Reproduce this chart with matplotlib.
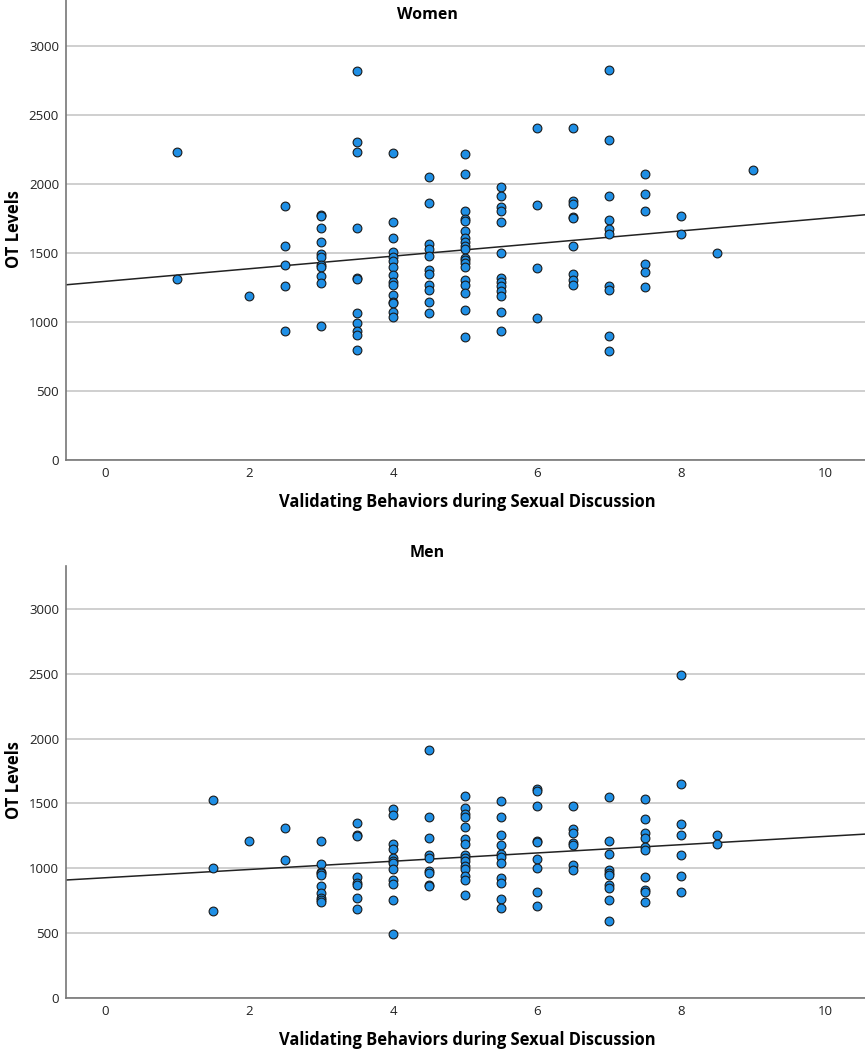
import numpy as np
import matplotlib.pyplot as plt

plt.rcParams['font.family'] = ['Open Sans', 'DejaVu Sans']

# Women: validating behaviours score -> OT levels
women_x = ([1] * 2 + [2] + [2.5] * 5 + [3] * 11 + [3.5] * 11 + [4] * 15 + [4.5] * 11
           + [5] * 19 + [5.5] * 13 + [6] * 4 + [6.5] * 9 + [7] * 10 + [7.5] * 6
           + [8] * 2 + [8.5] + [9])
women_y = [2232, 1309,
           1188,
           1836, 1546, 1411, 1263, 932,
           1775, 1768, 1676, 1577, 1493, 1473, 1411, 1396, 1329, 1278, 973,
           2814, 2300, 2232, 1676, 1316, 1312, 1065, 995, 937, 903, 795,
           2222, 1722, 1609, 1507, 1473, 1444, 1396, 1338, 1292, 1266, 1196, 1147, 1140, 1072, 1034,
           2048, 1862, 1563, 1527, 1476, 1372, 1343, 1268, 1229, 1143, 1065,
           2215, 2072, 1804, 1746, 1732, 1657, 1604, 1577, 1546, 1527, 1461, 1449, 1425, 1394,
           1300, 1268, 1208, 1089, 889,
           1973, 1908, 1833, 1802, 1722, 1498, 1314, 1290, 1263, 1222, 1184, 1072, 937,
           2406, 1848, 1391, 1027,
           2406, 1874, 1850, 1761, 1754, 1551, 1343, 1304, 1268,
           2821, 2316, 1911, 1739, 1671, 1635, 1263, 1229, 899, 790,
           2072, 1928, 1802, 1418, 1360, 1249,
           1768, 1633,
           1495,
           2097]

# Men
men_x = ([1.5] * 3 + [2] + [2.5] * 2 + [3] * 10 + [3.5] * 8 + [4] * 12 + [4.5] * 9
         + [5] * 15 + [5.5] * 11 + [6] * 9 + [6.5] * 7 + [7] * 10 + [7.5] * 10
         + [8] * 7 + [8.5] * 2)
men_y = [1527, 1000, 668,
         1213,
         1314, 1064,
         1213, 1031, 972, 961, 946, 861, 812, 769, 756, 743,
         1347, 1260, 1249, 936, 889, 869, 769, 689,
         1455, 1414, 1185, 1147, 1077, 1059, 1039, 995, 910, 879, 753, 491,
         1913, 1398, 1234, 1105, 1080, 979, 961, 871, 861,
         1560, 1468, 1416, 1393, 1316, 1226, 1185, 1100, 1077, 1057, 1021, 995, 943, 910, 792,
         1519, 1396, 1257, 1177, 1111, 1090, 1039, 925, 887, 766, 697,
         1609, 1594, 1478, 1213, 1206, 1070, 1000, 820, 712,
         1481, 1303, 1270, 1195, 1177, 1028, 987,
         1553, 1213, 1113, 987, 961, 946, 874, 846, 753, 594,
         1537, 1378, 1272, 1237, 1167, 1141, 931, 833, 820, 740,
         2491, 1653, 1342, 1260, 1103, 941, 815,
         1254, 1190]

# fit lines (intercept, slope)
women_fit = (1293, 45.7)
men_fit = (927, 31.9)

y_ticks = [0, 500, 1000, 1500, 2000, 2500, 3000]
x_ticks = [0, 2, 4, 6, 8, 10]
xlabel = 'Validating Behaviors during Sexual Discussion'

fig = plt.figure(figsize=(8.65, 10.5), dpi=100)

panels = [
    ('Women', women_x, women_y, women_fit, [0.0763, 0.5619, 0.9237, 0.4381], 15, 502, 229),
    ('Men', men_x, men_y, men_fit, [0.0763, 0.0495, 0.9237, 0.4114], 553, 1040, 780),
]

for title, xs, ys, fit, rect, title_px, xlab_px, ylab_px in panels:
    ax = fig.add_axes(rect)
    ax.set_xlim(-0.54, 10.55)
    ax.set_ylim(0, 3330)
    ax.set_yticks(y_ticks)
    ax.set_xticks(x_ticks)
    ax.grid(axis='y', color='#cccccc', linewidth=1.3, zorder=0)
    ax.set_axisbelow(True)
    for s in ['top', 'right']:
        ax.spines[s].set_visible(False)
    for s in ['left', 'bottom']:
        ax.spines[s].set_color('#777777')
        ax.spines[s].set_linewidth(1.2)
    ax.tick_params(length=0, labelsize=9.5, colors='#222222', pad=5)

    xx = np.array([-0.54, 10.55])
    ax.plot(xx, fit[0] + fit[1] * xx, color='#222222', linewidth=1.1, zorder=2)
    ax.scatter(xs, ys, s=40, color='#1f8fe5', edgecolor='#1a1a1a', linewidth=0.8, zorder=3)

    fig.text(0.494, 1 - title_px / 1050, title, ha='center', va='center',
             fontsize=11.5, fontweight='bold')
    fig.text(467 / 865, 1 - xlab_px / 1050, xlabel, ha='center', va='center',
             fontsize=11.9, fontweight='bold')
    fig.text(14 / 865, 1 - ylab_px / 1050, 'OT Levels', ha='center', va='center',
             rotation=90, fontsize=11.9, fontweight='bold')

fig.savefig('out.png', dpi=100)
